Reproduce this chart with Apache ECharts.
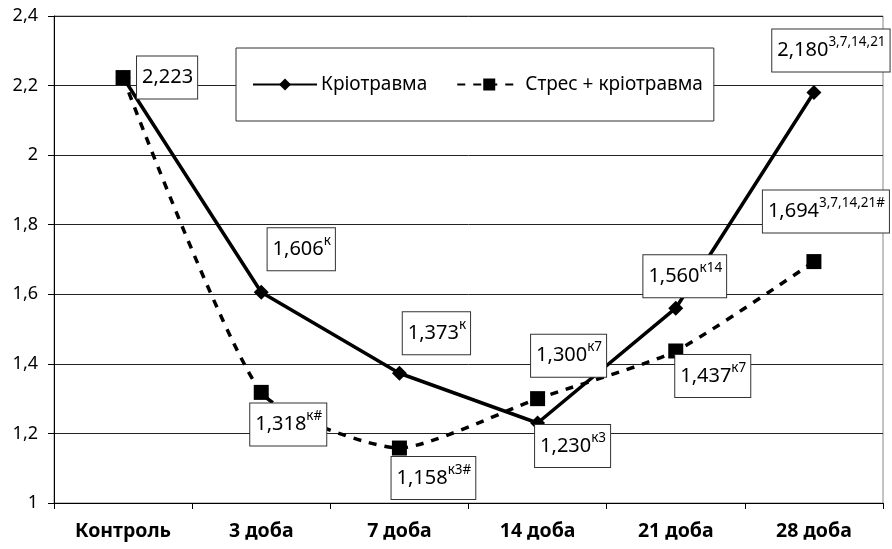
<!DOCTYPE html>
<html><head><meta charset="utf-8">
<script src="https://cdn.jsdelivr.net/npm/echarts@6/dist/echarts.min.js"></script>
<style>html,body{margin:0;padding:0;background:#fff}#c{width:892px;height:549px}</style>
</head><body><div id="c"></div>
<script>
const categories = ['Контроль', '3 доба', '7 доба', '14 доба', '21 доба', '28 доба'];
const kriotrauma = [2.223, 1.606, 1.373, 1.230, 1.560, 2.180];
const stress = [2.223, 1.318, 1.158, 1.300, 1.437, 1.694];
const kriotraumaMarks = ['', 'к', 'к', 'к3', 'к14', '3,7,14,21'];
const stressMarks = [null, 'к#', 'к3#', 'к7', 'к7', '3,7,14,21#'];
const yTicks = [1, 1.2, 1.4, 1.6, 1.8, 2, 2.2, 2.4];
// label placement (layout only)
const kLabelOffsets = [[44, 0], [40, -43], [37, -40], [35, 23], [9, -32], [17, -42]];
const sLabelOffsets = [null, [27, 32], [34, 30], [31, -43], [37, 25], [12, -50]];

const FONT = 'Noto Sans';
const fmt = v => v.toFixed(3).replace('.', ',');
const labelBase = {
  show: true,
  position: 'inside',
  backgroundColor: '#fff',
  borderColor: '#333',
  borderWidth: 1,
  padding: [6, 4, 6, 5],
  color: '#000',
  rich: {
    v: { fontFamily: FONT, fontSize: 20, lineHeight: 30, color: '#000', verticalAlign: 'middle' },
    s: { fontFamily: FONT, fontSize: 13.5, lineHeight: 30, color: '#000', verticalAlign: 'top', padding: [0, 0, 13, 0] }
  }
};
function buildData(vals, marks, offs) {
  return vals.map((v, i) => {
    if (marks[i] === null) return { value: v, label: { show: false } };
    return {
      value: v,
      label: Object.assign({}, labelBase, {
        offset: offs[i],
        formatter: '{v|' + fmt(v) + '}' + (marks[i] ? '{s|' + marks[i] + '}' : '')
      })
    };
  });
}

const chart = echarts.init(document.getElementById('c'));
chart.setOption({
  animation: false,
  backgroundColor: '#fff',
  grid: { left: 54, right: 9, top: 16, bottom: 46, show: true, borderColor: '#888', borderWidth: 1 },
  legend: {
    left: 236, top: 48,
    backgroundColor: '#fff', borderColor: '#333', borderWidth: 1,
    padding: [27, 11, 27, 16],
    itemWidth: 64, itemHeight: 15, itemGap: 29,
    textStyle: { fontFamily: FONT, fontSize: 19, color: '#000', padding: [0, 0, 0, -1] },
    data: ['Кріотравма', 'Стрес + кріотравма']
  },
  xAxis: {
    type: 'category', data: categories, boundaryGap: true,
    axisLine: { lineStyle: { color: '#000', width: 1 } },
    axisTick: { show: true, length: 6, lineStyle: { color: '#000' } },
    axisLabel: { fontFamily: FONT, fontWeight: 'bold', fontSize: 19.5, color: '#000', margin: 18 }
  },
  yAxis: {
    type: 'value', min: 1, max: 2.4, interval: 0.2,
    axisLine: { show: true, lineStyle: { color: '#000', width: 1 } },
    axisTick: { show: true, length: 6, lineStyle: { color: '#000' } },
    splitLine: { lineStyle: { color: '#222', width: 1 } },
    axisLabel: {
      fontFamily: FONT, fontSize: 18, color: '#000', margin: 16,
      formatter: v => {
        const t = yTicks.find(x => Math.abs(x - v) < 1e-6);
        return String(Math.round((t !== undefined ? t : v) * 10) / 10).replace('.', ',');
      }
    }
  },
  series: [
    {
      name: 'Кріотравма', type: 'line', smooth: false,
      symbol: 'diamond', symbolSize: 15,
      itemStyle: { color: '#000' },
      lineStyle: { color: '#000', width: 3.5 },
      data: buildData(kriotrauma, kriotraumaMarks, kLabelOffsets),
      z: 2
    },
    {
      name: 'Стрес + кріотравма', type: 'line', smooth: 0.2,
      symbol: 'rect', symbolSize: 15,
      itemStyle: { color: '#000' },
      lineStyle: { color: '#000', width: 3.5, type: [8, 8] },
      data: buildData(stress, stressMarks, sLabelOffsets),
      z: 3
    }
  ]
});
</script>
</body></html>
